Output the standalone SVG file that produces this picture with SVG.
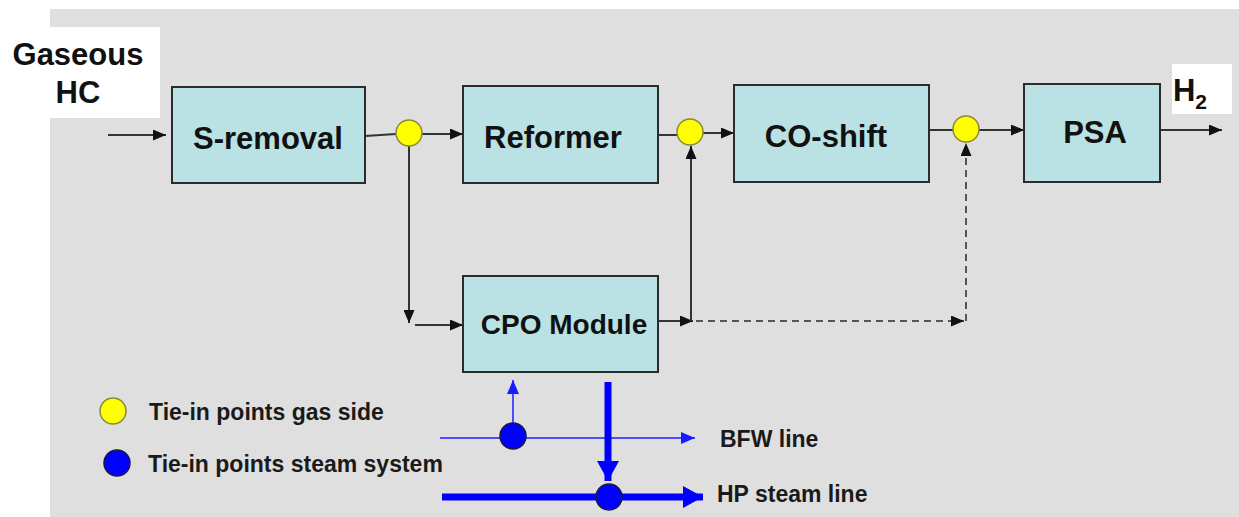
<svg xmlns="http://www.w3.org/2000/svg" width="1239" height="517" viewBox="0 0 1239 517">
<defs>
<style>
.box{fill:#bae1e4;stroke:#2b2b2b;stroke-width:2}
.lbl{font-family:"Liberation Sans",Arial,sans-serif;font-weight:bold;font-size:31px;fill:#111;text-anchor:middle}
.leg{font-family:"Liberation Sans",Arial,sans-serif;font-weight:bold;font-size:23px;fill:#1a1a1a}
.ln{fill:none;stroke:#333;stroke-width:2}
.dash{fill:none;stroke:#555;stroke-width:2;stroke-dasharray:7 5}
.yel{fill:#ffff00;stroke:#8a8a3a;stroke-width:1.5}
.blu{fill:#0000ff;stroke:#1a1a40;stroke-width:1.5}
.bthin{fill:none;stroke:#4d4dff;stroke-width:2}
.bthick{fill:none;stroke:#0000ff;stroke-width:7}
</style>
<marker id="ah" viewBox="0 0 13 11" refX="13" refY="5.5" markerWidth="13" markerHeight="11" markerUnits="userSpaceOnUse" orient="auto"><path d="M0,0 L13,5.5 L0,11 z" fill="#111"/></marker>
<marker id="ahb" viewBox="0 0 14 12" refX="14" refY="6" markerWidth="14" markerHeight="12" markerUnits="userSpaceOnUse" orient="auto"><path d="M0,0 L14,6 L0,12 z" fill="#1a1aff"/></marker>
<marker id="ahB" viewBox="0 0 20 22" refX="20" refY="11" markerWidth="20" markerHeight="22" markerUnits="userSpaceOnUse" orient="auto"><path d="M0,0 L20,11 L0,22 z" fill="#0000ff"/></marker>
</defs>
<rect x="50" y="9" width="1189" height="508" fill="#dfdfdf"/>
<rect x="0" y="27" width="160" height="91" fill="#ffffff"/>
<rect x="1172" y="64" width="60" height="50" fill="#ffffff"/>
<g id="connectors">
<path class="ln" d="M108,135 H166" marker-end="url(#ah)"/>
<path class="ln" d="M365,136 L396,134"/>
<path class="ln" d="M422,134 H463" marker-end="url(#ah)"/>
<path class="ln" d="M409,146 V323" marker-end="url(#ah)"/>
<path class="ln" d="M415,325 H463" marker-end="url(#ah)"/>
<path class="ln" d="M656,135 H677"/>
<path class="ln" d="M703,133 H734" marker-end="url(#ah)"/>
<path class="ln" d="M658,321 H693" marker-end="url(#ah)"/>
<path class="ln" d="M691,321 V146" marker-end="url(#ah)"/>
<path class="dash" d="M696,321 H964" marker-end="url(#ah)"/>
<path class="dash" d="M966,321 V143" marker-end="url(#ah)"/>
<path class="ln" d="M929,130 H953"/>
<path class="ln" d="M979,130 H1024" marker-end="url(#ah)"/>
<path class="ln" d="M1160,130 H1222" marker-end="url(#ah)"/>
<path class="bthin" d="M440,438 H695" marker-end="url(#ahb)"/>
<path class="bthin" d="M513,424 V380" marker-end="url(#ahb)"/>
<path class="bthick" d="M442,497 H703" marker-end="url(#ahB)"/>
<path class="bthick" d="M608,382 V481" marker-end="url(#ahB)"/>
</g>
<g id="s-removal"><rect class="box" x="172" y="87" width="193" height="96"/><text class="lbl" x="268" y="149">S-removal</text></g>
<g id="reformer"><rect class="box" x="463" y="86" width="195" height="97"/><text class="lbl" x="553" y="148">Reformer</text></g>
<g id="co-shift"><rect class="box" x="734" y="85" width="195" height="97"/><text class="lbl" x="826" y="147">CO-shift</text></g>
<g id="psa"><rect class="box" x="1024" y="84" width="136" height="98"/><text class="lbl" x="1095" y="143">PSA</text></g>
<g id="cpo"><rect class="box" x="463" y="276" width="195" height="96"/><text class="lbl" x="564" y="334" style="font-size:28px">CPO Module</text></g>
<g id="tie-points">
<circle class="yel" cx="409" cy="133" r="13"/>
<circle class="yel" cx="690" cy="132" r="13"/>
<circle class="yel" cx="966" cy="129" r="13"/>
<circle class="blu" cx="513" cy="436" r="13"/>
<circle class="blu" cx="609" cy="497" r="13"/>
</g>
<g id="input-label"><text class="lbl" x="78" y="65">Gaseous</text><text class="lbl" x="78" y="103">HC</text></g>
<g id="output-label"><text class="lbl" x="1190" y="101">H<tspan style="font-size:21px" dy="8">2</tspan></text></g>
<g id="legend">
<circle class="yel" cx="113" cy="411" r="13"/>
<text class="leg" x="149" y="420">Tie-in points gas side</text>
<circle class="blu" cx="117" cy="463" r="13"/>
<text class="leg" x="148" y="472">Tie-in points steam system</text>
</g>
<g id="line-labels">
<text class="leg" x="720" y="447">BFW line</text>
<text class="leg" x="717" y="502">HP steam line</text>
</g>
</svg>
